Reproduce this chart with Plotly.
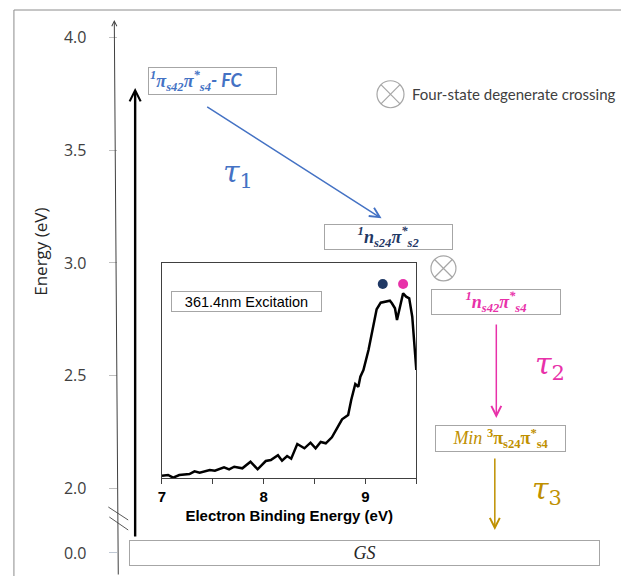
import plotly.graph_objects as go

W, H = 621, 576

# ---------------- data ----------------
# Energy levels of the states (eV)
state_keys = ["FC", "ns24", "ns42", "Min", "GS"]
state_energy = [3.81, 3.114, 2.826, 2.222, 0.0]
state_text = [
    "<b><i><sup>1</sup>π<sub>s42</sub>π<sup>*</sup><sub>s4</sub></i></b>"
    "<span style='font-family:Lato'><b><i>- FC</i></b></span>",
    "<b><i><sup>1</sup>n<sub>s24</sub>π<sup>*</sup><sub>s2</sub></i></b>",
    "<b><i><sup>1</sup>n<sub>s42</sub>π<sup>*</sup><sub>s4</sub></i></b>",
    "<i>Min</i> <b><sup>3</sup>π<sub>s24</sub>π<sup>*</sup><sub>s4</sub></b>",
    "<i>GS</i>",
]
main_tickvals = [2.0, 2.5, 3.0, 3.5, 4.0]
main_ticktext = ["2.0", "2.5", "3.0", "3.5", "4.0"]
gs_tickvals = [0.0]
gs_ticktext = ["0.0"]

# Degenerate crossings (energy, eV)
crossing_energy = [3.749, 2.976]

# Transitions: (start energy, end energy)
excitation = (0.0, 3.777)
tau1 = (3.697, 3.198)
tau2 = (2.733, 2.312)
tau3 = (2.139, 1.815)
tau_labels = ["<i>τ</i><sub>1</sub>", "<i>τ</i><sub>2</sub>", "<i>τ</i><sub>3</sub>"]
tau_label_energy = [3.399, 2.547, 1.992]

# Inset photoelectron spectrum
spec_ebe = [7.00, 7.06, 7.11, 7.17, 7.27, 7.32, 7.37, 7.47, 7.52, 7.61,
            7.66, 7.71, 7.79, 7.87, 7.94, 8.02, 8.07, 8.14, 8.18, 8.23,
            8.27, 8.33, 8.40, 8.46, 8.51, 8.56, 8.61, 8.67, 8.72, 8.77,
            8.83, 8.86, 8.90, 8.93, 8.95, 8.98, 9.03, 9.06, 9.11, 9.15,
            9.19, 9.24, 9.26, 9.29, 9.31, 9.33, 9.37, 9.40, 9.43, 9.46, 9.50]
spec_int = [2.3, 3.0, 0.3, 3.0, 4.0, 6.7, 5.3, 8.0, 7.3, 10.7,
            8.7, 11.3, 9.7, 16.3, 8.7, 17, 18, 22.7, 17.3, 22,
            19.3, 34, 29.7, 35.3, 29.7, 36, 34.7, 40.7, 49.7, 58.7,
            63, 78, 94, 91.3, 101.3, 108, 128, 143, 168.7, 175.3,
            176.3, 177.3, 174.7, 169.7, 158, 168, 184.7, 181.3, 179.7, 161.3, 108]
dot_ebe = [9.17, 9.37]
dot_int = [194, 194]
inset_tickvals = [7, 7.5, 8, 8.5, 9, 9.5]
inset_ticktext = ["7", "", "8", "", "9", ""]

# ---------------- layout / style ----------------
E_TOP, E_BOT = 4.1674, 1.6103
BLUE = "#4472C4"
NAVY = "#1F3864"
MAGENTA = "#E831A9"
GOLD = "#BF9000"
BOXLINE = "#a6a6a6"
SERIF = "Liberation Serif"

box_x = [209.5, 387, 495.3, 499.7, 362.5]
box_w = [129, 129, 130, 131, 471]
box_h = [28, 26, 26, 27, 26]
box_color = [BLUE, NAVY, MAGENTA, GOLD, "#262626"]
box_align = ["left", "center", "center", "center", "center"]
cross_x = [389, 442.3]
cross_size = [27, 25]
tau_x = [[203, 380], [495.5, 495.5], [494, 494]]
tau_color = [BLUE, MAGENTA, GOLD]
tau_label_x = [236, 550, 547]
tick_pos = 114 / W     # axis line / tick marks
label_pos = 83 / W     # tick labels

fig = go.Figure()

# inset spectrum
fig.add_trace(go.Scatter(x=spec_ebe, y=spec_int, mode="lines",
                         line=dict(color="black", width=2.5),
                         xaxis="x2", yaxis="y3", hoverinfo="skip"))
fig.add_trace(go.Scatter(x=dot_ebe, y=dot_int, mode="markers",
                         marker=dict(color=[NAVY, MAGENTA], size=10),
                         xaxis="x2", yaxis="y3", hoverinfo="skip"))
# crossings
fig.add_trace(go.Scatter(x=cross_x, y=crossing_energy, mode="markers",
                         marker=dict(symbol="circle-x-open", size=cross_size,
                                     color="#808080", line=dict(width=1.2)),
                         xaxis="x", yaxis="y", hoverinfo="skip"))
# invisible anchors so the label axes / broken lower axis are drawn
fig.add_trace(go.Scatter(x=box_x[:4], y=state_energy[:4], mode="markers",
                         marker=dict(opacity=0), xaxis="x", yaxis="y4",
                         hoverinfo="skip"))
fig.add_trace(go.Scatter(x=[box_x[4]], y=[state_energy[4]], mode="markers",
                         marker=dict(opacity=0), xaxis="x", yaxis="y2",
                         hoverinfo="skip"))
fig.add_trace(go.Scatter(x=[box_x[4]], y=[state_energy[4]], mode="markers",
                         marker=dict(opacity=0), xaxis="x", yaxis="y5",
                         hoverinfo="skip"))

ann = []
# state boxes
for i, k in enumerate(state_keys):
    ann.append(dict(
        x=box_x[i], y=state_energy[i], xref="x",
        yref="y2" if k == "GS" else "y",
        text=state_text[i], showarrow=False,
        bordercolor=BOXLINE, borderwidth=1, borderpad=1, bgcolor="white",
        width=box_w[i] - 4, height=box_h[i] - 4, align=box_align[i],
        valign="middle",
        font=dict(family=SERIF, size=18, color=box_color[i]),
    ))

# excitation arrow (from GS box top up to FC)
ann.append(dict(x=132, y=excitation[1], xref="x", yref="y",
                ax=0, ay=450, axref="pixel", ayref="pixel", text="",
                showarrow=True, arrowhead=5, arrowsize=0.9, arrowwidth=2.4,
                arrowcolor="black"))
# tau arrows
for (e0, e1), xs, c in zip([tau1, tau2, tau3], tau_x, tau_color):
    ann.append(dict(x=xs[1], y=e1, ax=xs[0], ay=e0, xref="x", yref="y",
                    axref="x", ayref="y", text="", showarrow=True,
                    arrowhead=5, arrowsize=1.3, arrowwidth=1.5, arrowcolor=c))
for t, e, xx, c in zip(tau_labels, tau_label_energy, tau_label_x, tau_color):
    ann.append(dict(x=xx, y=e, xref="x", yref="y", text=t, showarrow=False,
                    font=dict(family="DejaVu Serif", size=30, color=c)))

# crossing legend text
ann.append(dict(x=409, y=crossing_energy[0], xref="x", yref="y",
                xanchor="left", text="Four-state degenerate crossing",
                showarrow=False,
                font=dict(family="Lato", size=15, color="#404040")))

# energy axis title
ann.append(dict(x=36 / W, y=1 - 252 / H, xref="paper", yref="paper",
                xanchor="center", yanchor="middle",
                text="Energy (eV)", textangle=-90, showarrow=False,
                font=dict(family="Open Sans", size=17, color="#262626")))

# main axis line with arrow head
ann.append(dict(x=111 / W, y=1 - 20 / H, xref="paper", yref="paper",
                ax=4, ay=556, axref="pixel", ayref="pixel", text="",
                showarrow=True, arrowhead=5, arrowsize=1.0, arrowwidth=1,
                arrowcolor="#404040"))

# inset label
ann.append(dict(x=0.334, y=0.870, xref="x2 domain", yref="y3 domain",
                text="361.4nm Excitation", showarrow=False,
                bordercolor=BOXLINE, borderwidth=1, borderpad=1,
                bgcolor="white", width=147, height=17,
                font=dict(family="Liberation Sans", size=14.5, color="black")))

shapes = [
    # outer frame (left & top)
    dict(type="line", xref="paper", yref="paper", x0=10 / W, x1=10 / W,
         y0=0, y1=1 - 10 / H, line=dict(color="#8c8c8c", width=1)),
    dict(type="line", xref="paper", yref="paper", x0=10 / W, x1=1,
         y0=1 - 10 / H, y1=1 - 10 / H, line=dict(color="#8c8c8c", width=1)),
    # axis break marks
    dict(type="line", xref="paper", yref="paper", x0=105 / W, x1=125 / W,
         y0=1 - 507 / H, y1=1 - 520 / H, line=dict(color="#595959", width=1)),
    dict(type="line", xref="paper", yref="paper", x0=106 / W, x1=125 / W,
         y0=1 - 517 / H, y1=1 - 530 / H, line=dict(color="#595959", width=1)),
]

tickfont = dict(family="Open Sans", size=16, color="#404040")
common = dict(showline=False, showgrid=False, zeroline=False, anchor="free")
fig.update_layout(
    width=W, height=H, margin=dict(l=0, r=0, t=0, b=0),
    paper_bgcolor="white", plot_bgcolor="white", showlegend=False,
    xaxis=dict(domain=[0, 1], range=[0, W], visible=False, fixedrange=True),
    # energy axis: tick marks
    yaxis=dict(domain=[0, 1], range=[E_BOT, E_TOP], position=tick_pos,
               tickvals=main_tickvals, ticks="outside", ticklen=8,
               tickcolor="#bfbfbf", showticklabels=False, **common),
    # energy axis: tick labels
    yaxis4=dict(domain=[0, 1], range=[E_BOT, E_TOP], position=label_pos,
                overlaying="y", tickvals=main_tickvals,
                ticktext=main_ticktext, ticks="", tickfont=tickfont, **common),
    # broken lower part (ground state)
    yaxis2=dict(domain=[0, 0.08], range=[-0.2, 0.2], position=tick_pos,
                tickvals=gs_tickvals, ticks="outside", ticklen=8,
                tickcolor="#bfc8d4", showticklabels=False, **common),
    yaxis5=dict(domain=[0, 0.08], range=[-0.2, 0.2], position=label_pos,
                overlaying="y2", tickvals=gs_tickvals, ticktext=gs_ticktext,
                ticks="", tickfont=tickfont, **common),
    xaxis2=dict(domain=[159 / W, 415 / W], range=[7, 9.5], anchor="y3",
                tickvals=inset_tickvals, ticktext=inset_ticktext,
                ticks="outside", ticklen=5, tickcolor="#404040",
                showline=True, mirror=True, linecolor="#404040", linewidth=1,
                showgrid=False, zeroline=False,
                tickfont=dict(family="Liberation Sans", size=15, color="black",
                              weight="bold"),
                title=dict(text="<b>Electron Binding Energy (eV)</b>",
                           font=dict(family="Liberation Sans", size=15,
                                     color="black"), standoff=6)),
    yaxis3=dict(domain=[1 - 478 / H, 1 - 263 / H], range=[0, 215],
                anchor="x2", showline=True, mirror=True, linecolor="#404040",
                linewidth=1, showgrid=False, zeroline=False,
                showticklabels=False, ticks=""),
    annotations=ann, shapes=shapes,
)

fig.write_html("out.html")
